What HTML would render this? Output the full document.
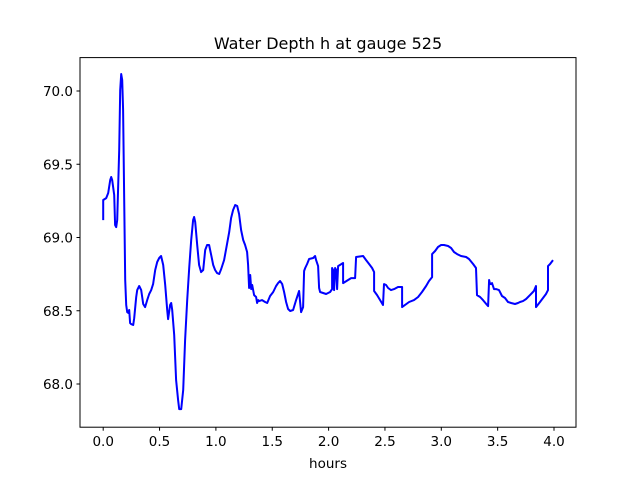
<!DOCTYPE html>
<html><head><meta charset="utf-8"><style>
body{margin:0;background:#fff;}
text{font-family:"DejaVu Sans","Liberation Sans",sans-serif;fill:#000;}
</style></head><body>
<svg id="chart" width="640" height="480" xmlns="http://www.w3.org/2000/svg">
<rect width="640" height="480" fill="#fff"/>
<text x="328" y="49" font-size="16" text-anchor="middle">Water Depth h at gauge 525</text>
<text x="328" y="468" font-size="13.5" text-anchor="middle">hours</text>
<g id="ticks"></g>
<polyline id="series" fill="none" stroke="#0000ff" stroke-width="2" stroke-linejoin="round"/>
<rect x="80" y="57.6" width="496" height="369.6" fill="none" stroke="#000" stroke-width="1"/>
</svg>
<script>
const hours=[0,0,.027,.044,.062,.071,.080,.098,.106,.115,.124,.142,.151,.160,.169,.177,.186,.195,.204,.213,.222,.231,.239,.248,.266,.275,.293,.302,.319,.337,.355,.372,.390,.408,.426,.443,.461,.479,.497,.514,.532,.550,.568,.576,.594,.603,.612,.630,.647,.665,.674,.692,.710,.727,.745,.763,.781,.798,.807,.816,.834,.851,.869,.887,.905,.922,.940,.958,.976,.993,1.011,1.029,1.047,1.073,1.100,1.118,1.135,1.153,1.171,1.189,1.206,1.224,1.242,1.259,1.277,1.286,1.295,1.304,1.313,1.322,1.339,1.357,1.366,1.375,1.383,1.410,1.437,1.455,1.481,1.508,1.534,1.552,1.570,1.588,1.605,1.623,1.641,1.659,1.685,1.712,1.738,1.747,1.756,1.774,1.783,1.792,1.809,1.827,1.863,1.880,1.889,1.907,1.916,1.925,1.951,1.978,2.013,2.031,2.031,2.040,2.049,2.058,2.067,2.075,2.084,2.129,2.129,2.200,2.235,2.244,2.306,2.333,2.359,2.386,2.404,2.404,2.430,2.457,2.483,2.492,2.510,2.528,2.554,2.581,2.616,2.652,2.652,2.714,2.758,2.794,2.829,2.865,2.891,2.918,2.918,2.945,2.971,2.998,3.024,3.060,3.087,3.113,3.140,3.175,3.220,3.246,3.282,3.308,3.317,3.344,3.370,3.406,3.415,3.424,3.432,3.450,3.468,3.486,3.512,3.539,3.565,3.592,3.619,3.654,3.681,3.698,3.725,3.752,3.787,3.822,3.840,3.840,3.876,3.902,3.929,3.947,3.947,3.965,3.991];
const depth=[69.119,69.256,69.269,69.304,69.392,69.413,69.392,69.290,69.085,69.071,69.119,69.597,70.007,70.116,70.075,69.870,69.256,68.710,68.539,68.491,68.485,68.505,68.416,68.409,68.403,68.450,68.594,68.641,68.669,68.641,68.546,68.525,68.573,68.614,68.641,68.682,68.778,68.833,68.860,68.874,68.812,68.676,68.505,68.443,68.539,68.553,68.505,68.334,68.027,67.891,67.829,67.829,67.959,68.300,68.573,68.792,68.983,69.119,69.140,69.106,68.949,68.812,68.764,68.778,68.915,68.949,68.949,68.880,68.812,68.778,68.757,68.751,68.785,68.846,68.962,69.037,69.133,69.188,69.222,69.215,69.160,69.051,68.983,68.949,68.901,68.812,68.655,68.744,68.648,68.676,68.607,68.594,68.553,68.573,68.566,68.573,68.560,68.553,68.601,68.628,68.669,68.689,68.703,68.682,68.628,68.560,68.512,68.498,68.505,68.573,68.635,68.560,68.491,68.525,68.771,68.792,68.819,68.853,68.860,68.874,68.846,68.805,68.655,68.628,68.621,68.614,68.628,68.648,68.792,68.778,68.641,68.792,68.778,68.648,68.805,68.826,68.689,68.723,68.723,68.867,68.874,68.846,68.819,68.792,68.764,68.635,68.607,68.573,68.539,68.682,68.676,68.655,68.641,68.648,68.662,68.662,68.525,68.560,68.573,68.594,68.628,68.669,68.703,68.730,68.887,68.908,68.935,68.949,68.949,68.942,68.928,68.901,68.887,68.874,68.867,68.853,68.819,68.792,68.607,68.594,68.573,68.539,68.532,68.710,68.682,68.689,68.648,68.648,68.641,68.601,68.587,68.560,68.553,68.546,68.553,68.560,68.566,68.580,68.607,68.635,68.669,68.525,68.560,68.587,68.614,68.641,68.805,68.819,68.846];
const xTicks=[0,0.5,1,1.5,2,2.5,3,3.5,4];
const xTickLabels=["0.0","0.5","1.0","1.5","2.0","2.5","3.0","3.5","4.0"];
const yTicks=[68,68.5,69,69.5,70];
const yTickLabels=["68.0","68.5","69.0","69.5","70.0"];
function xs(v){return 103.2+v*112.7;}
function ys(v){return 91-(v-70)*146.5;}
const NS="http://www.w3.org/2000/svg";
const g=document.getElementById('ticks');
xTicks.forEach((t,i)=>{
  const l=document.createElementNS(NS,'line');
  
  
  l.setAttribute('x1',xs(t));l.setAttribute('x2',xs(t));l.setAttribute('y1',427.2);l.setAttribute('y2',430.7);l.setAttribute('stroke','#000');
  g.appendChild(l);
  const tx=document.createElementNS(NS,'text');
  
  
  tx.setAttribute('x',xs(t));tx.setAttribute('y',446);tx.setAttribute('font-size','13.5');tx.setAttribute('text-anchor','middle');
  tx.textContent=xTickLabels[i];g.appendChild(tx);
});
yTicks.forEach((t,i)=>{
  const l=document.createElementNS(NS,'line');
  
  
  l.setAttribute('x1',76.5);l.setAttribute('x2',80);l.setAttribute('y1',ys(t));l.setAttribute('y2',ys(t));l.setAttribute('stroke','#000');
  g.appendChild(l);
  const tx=document.createElementNS(NS,'text');
  
  
  tx.setAttribute('x',73);tx.setAttribute('y',ys(t)+5);tx.setAttribute('font-size','13.5');tx.setAttribute('text-anchor','end');
  tx.textContent=yTickLabels[i];g.appendChild(tx);
});
document.getElementById('series').setAttribute('points',hours.map((h,i)=>xs(h).toFixed(1)+','+ys(depth[i]).toFixed(1)).join(' '));
</script>
</body></html>
